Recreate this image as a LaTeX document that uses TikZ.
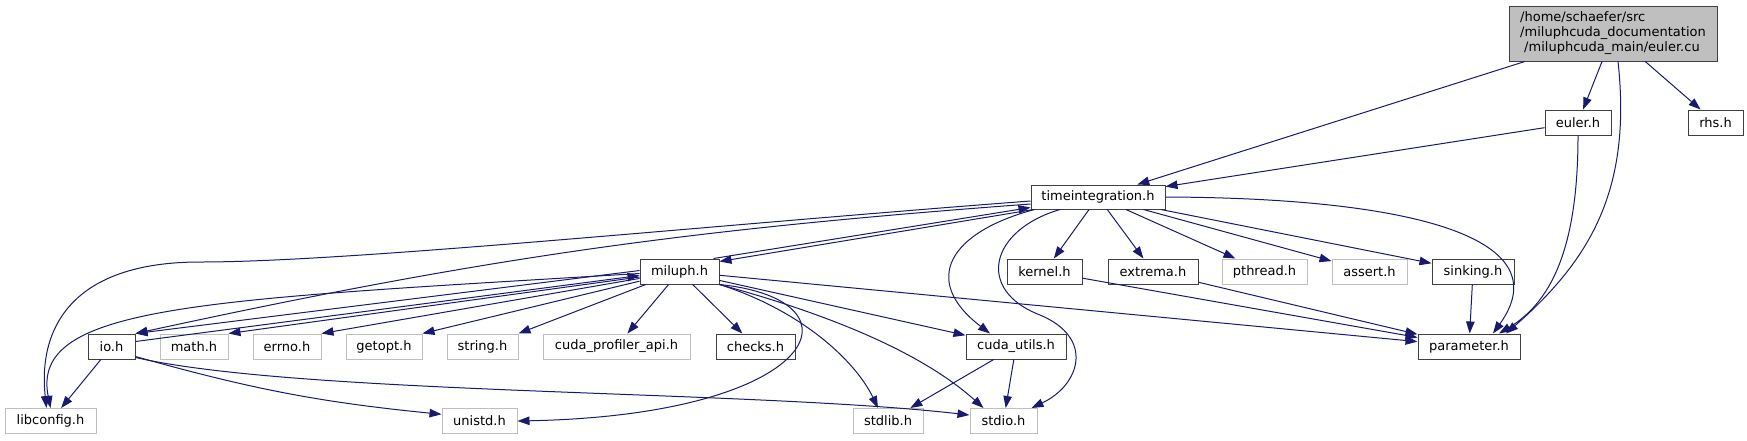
\documentclass[tikz,border=0pt]{standalone}
\usepackage{fontspec}
\setmainfont{DejaVu Sans}
\usetikzlibrary{arrows.meta, positioning, calc}
\definecolor{edgeblue}{HTML}{191970}
\definecolor{boxline}{HTML}{404040}
\definecolor{sysline}{HTML}{BFBFBF}
\definecolor{srcfill}{HTML}{BFBFBF}

\begin{document}
\begin{tikzpicture}[
  x=1pt, y=-1pt,
  font=\fontsize{13}{15}\selectfont,
  incl/.style={draw=boxline, fill=white, line width=1pt, inner sep=0pt, minimum height=25pt},
  sysincl/.style={incl, draw=sysline},
  mainsrc/.style={incl, fill=srcfill, minimum height=55pt, align=left},
  edge/.style={-{Triangle[length=12pt, width=8.5pt]}, edgeblue, line width=1pt}
]
\useasboundingbox (0,0) rectangle (1747,440);

\node[mainsrc, minimum width=208pt] (src) at (1613,33.5) {/home/schaefer/src\\/miluphcuda\_documentation\\\hspace*{4pt}/miluphcuda\_main/euler.cu};

\node[incl, minimum width=66pt] (eulerh) at (1578,122.5) {euler.h};
\node[incl, minimum width=55pt, right=76pt of eulerh] (rhs) {rhs.h};

\node[incl, minimum width=134pt, minimum height=24pt] (ti) at (1098,197) {timeintegration.h};

\node[incl, minimum width=79pt] (miluph) at (679.5,271.5) {miluph.h};
\node[incl, minimum width=75pt] (kernel) at (1044.5,271.5) {kernel.h};
\node[incl, minimum width=90pt, right=25pt of kernel] (extrema) {extrema.h};
\node[sysincl, minimum width=85pt, right=23pt of extrema] (pthread) {pthread.h};
\node[sysincl, minimum width=75pt, right=24pt of pthread] (assert) {assert.h};
\node[incl, minimum width=82pt, right=24pt of assert] (sinking) {sinking.h};

\node[incl, minimum width=47pt] (io) at (111.5,346.5) {io.h};
\node[sysincl, minimum width=68pt, right=24pt of io] (math) {math.h};
\node[sysincl, minimum width=68pt, right=24pt of math] (errno) {errno.h};
\node[sysincl, minimum width=76pt, right=24pt of errno] (getopt) {getopt.h};
\node[sysincl, minimum width=71pt, right=24pt of getopt] (string) {string.h};
\node[sysincl, minimum width=147pt, right=24pt of string] (profiler) {cuda\_profiler\_api.h};
\node[incl, minimum width=79pt, right=25pt of profiler] (checks) {checks.h};
\node[incl, minimum width=100pt] (cuda) at (1016,346.5) {cuda\_utils.h};
\node[incl, minimum width=102pt] (param) at (1469,346.5) {parameter.h};

\node[sysincl, minimum width=91pt] (libconfig) at (50.5,421) {libconfig.h};
\node[sysincl, minimum width=75pt] (unistd) at (479.5,421) {unistd.h};
\node[sysincl, minimum width=70pt] (stdlib) at (888,421) {stdlib.h};
\node[sysincl, minimum width=67pt] (stdio) at (1003.5,421) {stdio.h};

% euler.cu
\draw[edge] (src) -- (ti);
\draw[edge] (src) -- (eulerh);
\draw[edge] (src) -- (rhs);
\draw[edge] ($(src.south)+(5,0)$) .. controls (1632,190) and (1590,260) .. ($(param.north)+(37,0)$);
% euler.h
\draw[edge] (eulerh) -- (ti);
\draw[edge] (eulerh.south) .. controls (1578,240) and (1555,300) .. ($(param.north)+(30,0)$);
% timeintegration.h
\draw[edge] ($(ti.west)+(0,4)$) .. controls (700,226) and (350,262) .. (200,262) .. controls (70,262) and (38,330) .. ($(libconfig.north)+(-4,0)$);
\draw[edge] ($(ti.west)+(0,7)$) to[bend right=4] (io.north east);
\draw[edge] ($(ti.south west)+(3,0)$) -- ($(miluph.north east)+(0,3)$);
\draw[edge] ($(ti.south west)+(4,0)$) .. controls (950,232) and (920,280) .. ($(cuda.north)+(-26,0)$);
\draw[edge] ($(ti.south)+(-38,0)$) .. controls (990,230) and (975,290) .. (1040,315) .. controls (1095,338) and (1080,385) .. ($(stdio.north east)+(-6,0)$);
\draw[edge] (ti) -- (kernel);
\draw[edge] (ti) -- (extrema);
\draw[edge] (ti) -- (pthread);
\draw[edge] (ti) -- (assert);
\draw[edge] (ti) -- (sinking);
\draw[edge] (ti.east) .. controls (1420,198) and (1560,240) .. ($(param.north)+(24,0)$);
% miluph.h
\draw[edge] ($(miluph.north east)+(-6,0)$) -- ($(ti.south west)+(0,-2)$);
\draw[edge] ($(miluph.west)+(0,-1)$) -- (io.north east);
\draw[edge] ($(miluph.west)+(0,2)$) .. controls (200,300) and (30,305) .. (libconfig.north);
\draw[edge] (miluph) -- (math.north east);
\draw[edge] (miluph) -- (errno.north east);
\draw[edge] (miluph) -- (getopt.north east);
\draw[edge] (miluph) -- (string.north east);
\draw[edge] (miluph) -- (profiler);
\draw[edge] (miluph) -- (checks);
\draw[edge] (miluph) -- (cuda);
\draw[edge] (miluph.south east) .. controls (850,320) and (930,360) .. ($(stdio.north)+(-20,0)$);
\draw[edge] (miluph.south east) .. controls (800,310) and (855,360) .. ($(stdlib.north)+(-10,0)$);
\draw[edge] (miluph.south east) .. controls (870,300) and (820,415) .. (unistd.east);
\draw[edge] (miluph) -- (param);
% io.h
\draw[edge] ($(io.east)+(0,-5)$) -- ($(miluph.west)+(0,4)$);
\draw[edge] (io) -- (libconfig);
\draw[edge] ($(io.south east)+(0,-3)$) to[bend right=5] (unistd.170);
\draw[edge] ($(io.south east)+(0,-2)$) .. controls (300,395) and (750,390) .. (stdio.170);
% cuda_utils.h, kernel.h, extrema.h, sinking.h
\draw[edge] (cuda) -- (stdlib);
\draw[edge] (cuda) -- (stdio);
\draw[edge] (kernel) -- (param);
\draw[edge] (extrema) -- (param);
\draw[edge] (sinking) -- (param);
\end{tikzpicture}
\end{document}
